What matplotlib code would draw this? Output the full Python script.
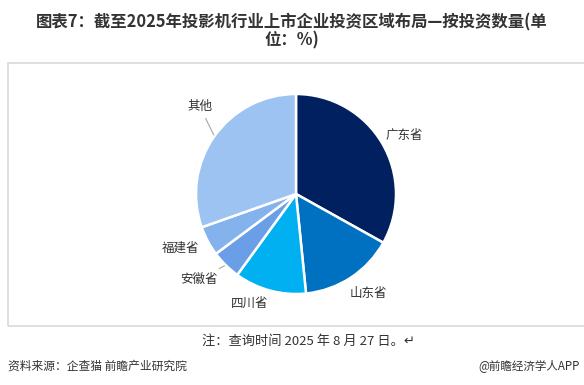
import numpy as np
import matplotlib
matplotlib.use('Agg')
import matplotlib.pyplot as plt
from matplotlib.patches import Rectangle

plt.rcParams['font.family'] = ['Noto Sans CJK SC', 'DejaVu Sans']

# 数据
regions = ['广东省', '山东省', '四川省', '安徽省', '福建省', '其他']
values = [33.1, 15.3, 11.6, 4.8, 4.8, 30.4]
colors = ['#002060', '#0070C0', '#00B0F0', '#6A9FE8', '#84B2EC', '#9DC3F2']
# 标签位置：半径、相对扇区中线的角度偏移、是否有引线
label_r = [1.23, 1.23, 1.19, 1.29, 1.28, 1.30]
label_shift = [-2, 3, -8, -4, -3, -7]
leader = [False, False, False, True, False, True]

W, H = 584, 385
fig = plt.figure(figsize=(W / 100, H / 100), dpi=100)

# 外框
fig.patches.append(Rectangle((8 / W, (H - 326) / H), 1, (326 - 63) / H,
                             transform=fig.transFigure, fill=False,
                             edgecolor='#d9d9d9', linewidth=1.2))

# 标题
fig.text(0.5, 1 - 22 / H, '图表7：截至2025年投影机行业上市企业投资区域布局—按投资数量(单',
         ha='center', va='center', fontsize=11.8, fontweight='bold', color='#333333')
fig.text(0.5, 1 - 40 / H, '位：%)', ha='center', va='center',
         fontsize=11.8, fontweight='bold', color='#333333')

# 饼图
cx, cy, r = 296, 194, 100
side = 3 * r
ax = fig.add_axes([(cx - side / 2) / W, (H - cy - side / 2) / H, side / W, side / H])

wedges, _ = ax.pie(values, colors=colors, startangle=90, counterclock=False,
                   wedgeprops=dict(edgecolor='white', linewidth=1.8))
ax.set_xlim(-1.5, 1.5)
ax.set_ylim(-1.5, 1.5)
ax.set_aspect('equal')
ax.axis('off')

for w, name, lr, sh, ld in zip(wedges, regions, label_r, label_shift, leader):
    mid = np.deg2rad((w.theta1 + w.theta2) / 2)
    ang = mid + np.deg2rad(sh)
    tx, ty = lr * np.cos(ang), lr * np.sin(ang)
    if ld:
        ax.annotate(name, xy=(np.cos(mid), np.sin(mid)), xytext=(tx, ty),
                    ha='center', va='center', fontsize=9, color='#333333',
                    arrowprops=dict(arrowstyle='-', color='#a6a6a6', lw=0.8,
                                    shrinkA=2, shrinkB=1))
    else:
        ax.text(tx, ty, name, ha='center', va='center', fontsize=9, color='#333333')

# 注释与来源
fig.text(308 / W, 1 - 341 / H, '注：查询时间 2025 年 8 月 27 日。↵', ha='center', va='center',
         fontsize=9.5, color='#333333')
fig.text(8 / W, 1 - 366 / H, '资料来源：企查猫 前瞻产业研究院', ha='left', va='center',
         fontsize=8.5, color='#333333')
fig.text(580 / W, 1 - 366 / H, '@前瞻经济学人APP', ha='right', va='center',
         fontsize=8.3, color='#333333')

fig.savefig('out.png', dpi=100)
